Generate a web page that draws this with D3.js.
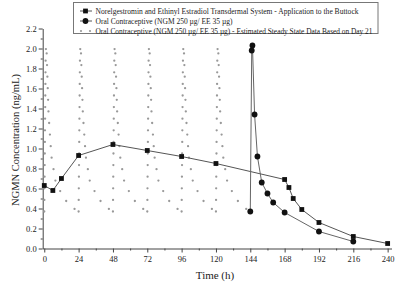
<!DOCTYPE html>
<html>
<head>
<meta charset="utf-8">
<script src="https://cdn.jsdelivr.net/npm/d3@7"></script>
<style>
  html, body { margin: 0; padding: 0; background: #fff; }
  svg { display: block; font-family: "Liberation Serif", "DejaVu Serif", serif; }
</style>
</head>
<body>
<div id="chart"></div>
<script>
// Transdermal system (squares)
const patchHours = [0, 6, 12, 24, 48, 72, 96, 120, 168, 171, 174, 180, 192, 216, 240];
const patchValues = [0.63, 0.58, 0.70, 0.93, 1.04, 0.98, 0.92, 0.85, 0.69, 0.61, 0.50, 0.39, 0.26, 0.12, 0.05];

// Oral contraceptive, day 21 (circles)
const ocHours = [144, 145, 145.5, 147, 149, 152, 156, 160, 168, 192, 216];
const ocValues = [0.37, 1.98, 2.03, 1.34, 0.92, 0.66, 0.55, 0.46, 0.36, 0.17, 0.07];

// Estimated steady state: day 21 profile (hours after dose) repeated each dosing day
const steadyHours = [0, 1, 1.5, 3, 5, 8, 12, 16, 24];
const steadyValues = [0.37, 1.98, 2.03, 1.34, 0.92, 0.66, 0.55, 0.46, 0.36];
const doseStarts = [0, 24, 48, 72, 96, 120];

const xTicks = [0, 24, 48, 72, 96, 120, 144, 168, 192, 216, 240];
const yTicks = [0.0, 0.2, 0.4, 0.6, 0.8, 1.0, 1.2, 1.4, 1.6, 1.8, 2.0, 2.2];

const legendLabels = [
  'Norelgestromin and Ethinyl Estradiol Transdermal System - Application to the Buttock',
  'Oral Contraceptive (NGM 250 \u00b5g/ EE 35 \u00b5g)',
  'Oral Contraceptive (NGM 250 \u00b5g/ EE 35 \u00b5g) - Estimated Steady State Data Based on Day 21'
];
const legendTextWidths = [263, 137, 277];

const width = 400, height = 284;
const textColor = '#222';
const dotColor = '#999';

const svg = d3.select('#chart').append('svg')
  .attr('width', width)
  .attr('height', height)
  .attr('viewBox', [0, 0, width, height]);

const x = d3.scaleLinear().domain([-1.1, 242.7]).range([42.7, 391.5]);
const y = d3.scaleLinear().domain([0, 2.2]).range([248.5, 28.5]);

// minor ticks
const xMinor = d3.range(12, 241, 24);
const yMinor = d3.range(0.1, 2.2, 0.2);

svg.append('g')
  .attr('transform', `translate(0,${y(0)})`)
  .call(d3.axisBottom(x).tickValues(xMinor).tickSize(2).tickSizeOuter(0).tickFormat(''))
  .call(g => g.select('.domain').remove())
  .call(g => g.selectAll('line').attr('stroke', '#444'));

svg.append('g')
  .attr('transform', `translate(${x.range()[0]},0)`)
  .call(d3.axisLeft(y).tickValues(yMinor).tickSize(2).tickSizeOuter(0).tickFormat(''))
  .call(g => g.select('.domain').remove())
  .call(g => g.selectAll('line').attr('stroke', '#444'));

// main axes
svg.append('g')
  .attr('transform', `translate(0,${y(0)})`)
  .call(d3.axisBottom(x).tickValues(xTicks).tickSize(4).tickSizeOuter(0).tickPadding(3))
  .call(g => g.select('.domain').attr('stroke', '#444'))
  .call(g => g.selectAll('line').attr('stroke', '#444'))
  .call(g => g.selectAll('text').attr('fill', textColor).attr('font-size', '8.5px')
    .attr('font-family', '"Liberation Serif", serif'));

svg.append('g')
  .attr('transform', `translate(${x.range()[0]},0)`)
  .call(d3.axisLeft(y).tickValues(yTicks).tickSize(4).tickSizeOuter(0).tickPadding(2)
    .tickFormat(d3.format('.1f')))
  .call(g => g.select('.domain').attr('stroke', '#444'))
  .call(g => g.selectAll('line').attr('stroke', '#444'))
  .call(g => g.selectAll('text').attr('fill', textColor).attr('font-size', '8.5px')
    .attr('font-family', '"Liberation Serif", serif'));

// axis titles
svg.append('text')
  .attr('x', 215)
  .attr('y', 279)
  .attr('text-anchor', 'middle')
  .attr('font-size', '11px')
  .attr('fill', textColor)
  .text('Time (h)');

svg.append('text')
  .attr('transform', 'translate(19,140) rotate(-90)')
  .attr('text-anchor', 'middle')
  .attr('font-size', '10.5px')
  .attr('fill', textColor)
  .text('NGMN Concentration (ng/mL)');

// estimated steady state dotted curves
const line = d3.line().x(d => x(d[0])).y(d => y(d[1]));

doseStarts.forEach(t0 => {
  const pts = steadyHours.map((h, i) => [t0 + h, steadyValues[i]]);
  svg.append('path')
    .attr('d', line(pts))
    .attr('fill', 'none')
    .attr('stroke', dotColor)
    .attr('stroke-width', 2.3)
    .attr('stroke-linecap', 'round')
    .attr('stroke-dasharray', '0 11.6');
});

// transdermal line + squares
const patchPts = patchHours.map((h, i) => [h, patchValues[i]]);
svg.append('path')
  .attr('d', line(patchPts))
  .attr('fill', 'none')
  .attr('stroke', '#555')
  .attr('stroke-width', 1);

svg.append('g')
  .selectAll('rect')
  .data(patchPts)
  .join('rect')
  .attr('x', d => x(d[0]) - 2.4)
  .attr('y', d => y(d[1]) - 2.4)
  .attr('width', 4.8)
  .attr('height', 4.8)
  .attr('fill', '#111');

// oral contraceptive line + circles
const ocPts = ocHours.map((h, i) => [h, ocValues[i]]);
svg.append('path')
  .attr('d', line(ocPts))
  .attr('fill', 'none')
  .attr('stroke', '#666')
  .attr('stroke-width', 1);

svg.append('g')
  .selectAll('circle')
  .data(ocPts)
  .join('circle')
  .attr('cx', d => x(d[0]))
  .attr('cy', d => y(d[1]))
  .attr('r', 2.9)
  .attr('fill', '#111');

// legend
const lg = svg.append('g');
lg.append('rect')
  .attr('x', 73.5)
  .attr('y', 2.5)
  .attr('width', 304.5)
  .attr('height', 31)
  .attr('fill', '#fff')
  .attr('stroke', '#777')
  .attr('stroke-width', 1);

const rowY = [11, 21, 31];
legendLabels.forEach((label, i) => {
  const yy = rowY[i];
  if (i < 2) {
    lg.append('line')
      .attr('x1', 80).attr('x2', 92)
      .attr('y1', yy).attr('y2', yy)
      .attr('stroke', '#555');
  }
  if (i === 0) {
    lg.append('rect')
      .attr('x', 85.5 - 2.4).attr('y', yy - 2.4)
      .attr('width', 4.8).attr('height', 4.8)
      .attr('fill', '#111');
  } else if (i === 1) {
    lg.append('circle')
      .attr('cx', 85.5).attr('cy', yy)
      .attr('r', 2.9)
      .attr('fill', '#111');
  } else {
    [81, 90].forEach(cx => {
      lg.append('circle')
        .attr('cx', cx).attr('cy', yy)
        .attr('r', 1.1)
        .attr('fill', dotColor);
    });
  }
  lg.append('text')
    .attr('x', 95.5)
    .attr('y', yy)
    .attr('dy', '0.33em')
    .attr('font-size', '7.8px')
    .attr('textLength', legendTextWidths[i])
    .attr('lengthAdjust', 'spacingAndGlyphs')
    .attr('fill', textColor)
    .text(label);
});
</script>
</body>
</html>
